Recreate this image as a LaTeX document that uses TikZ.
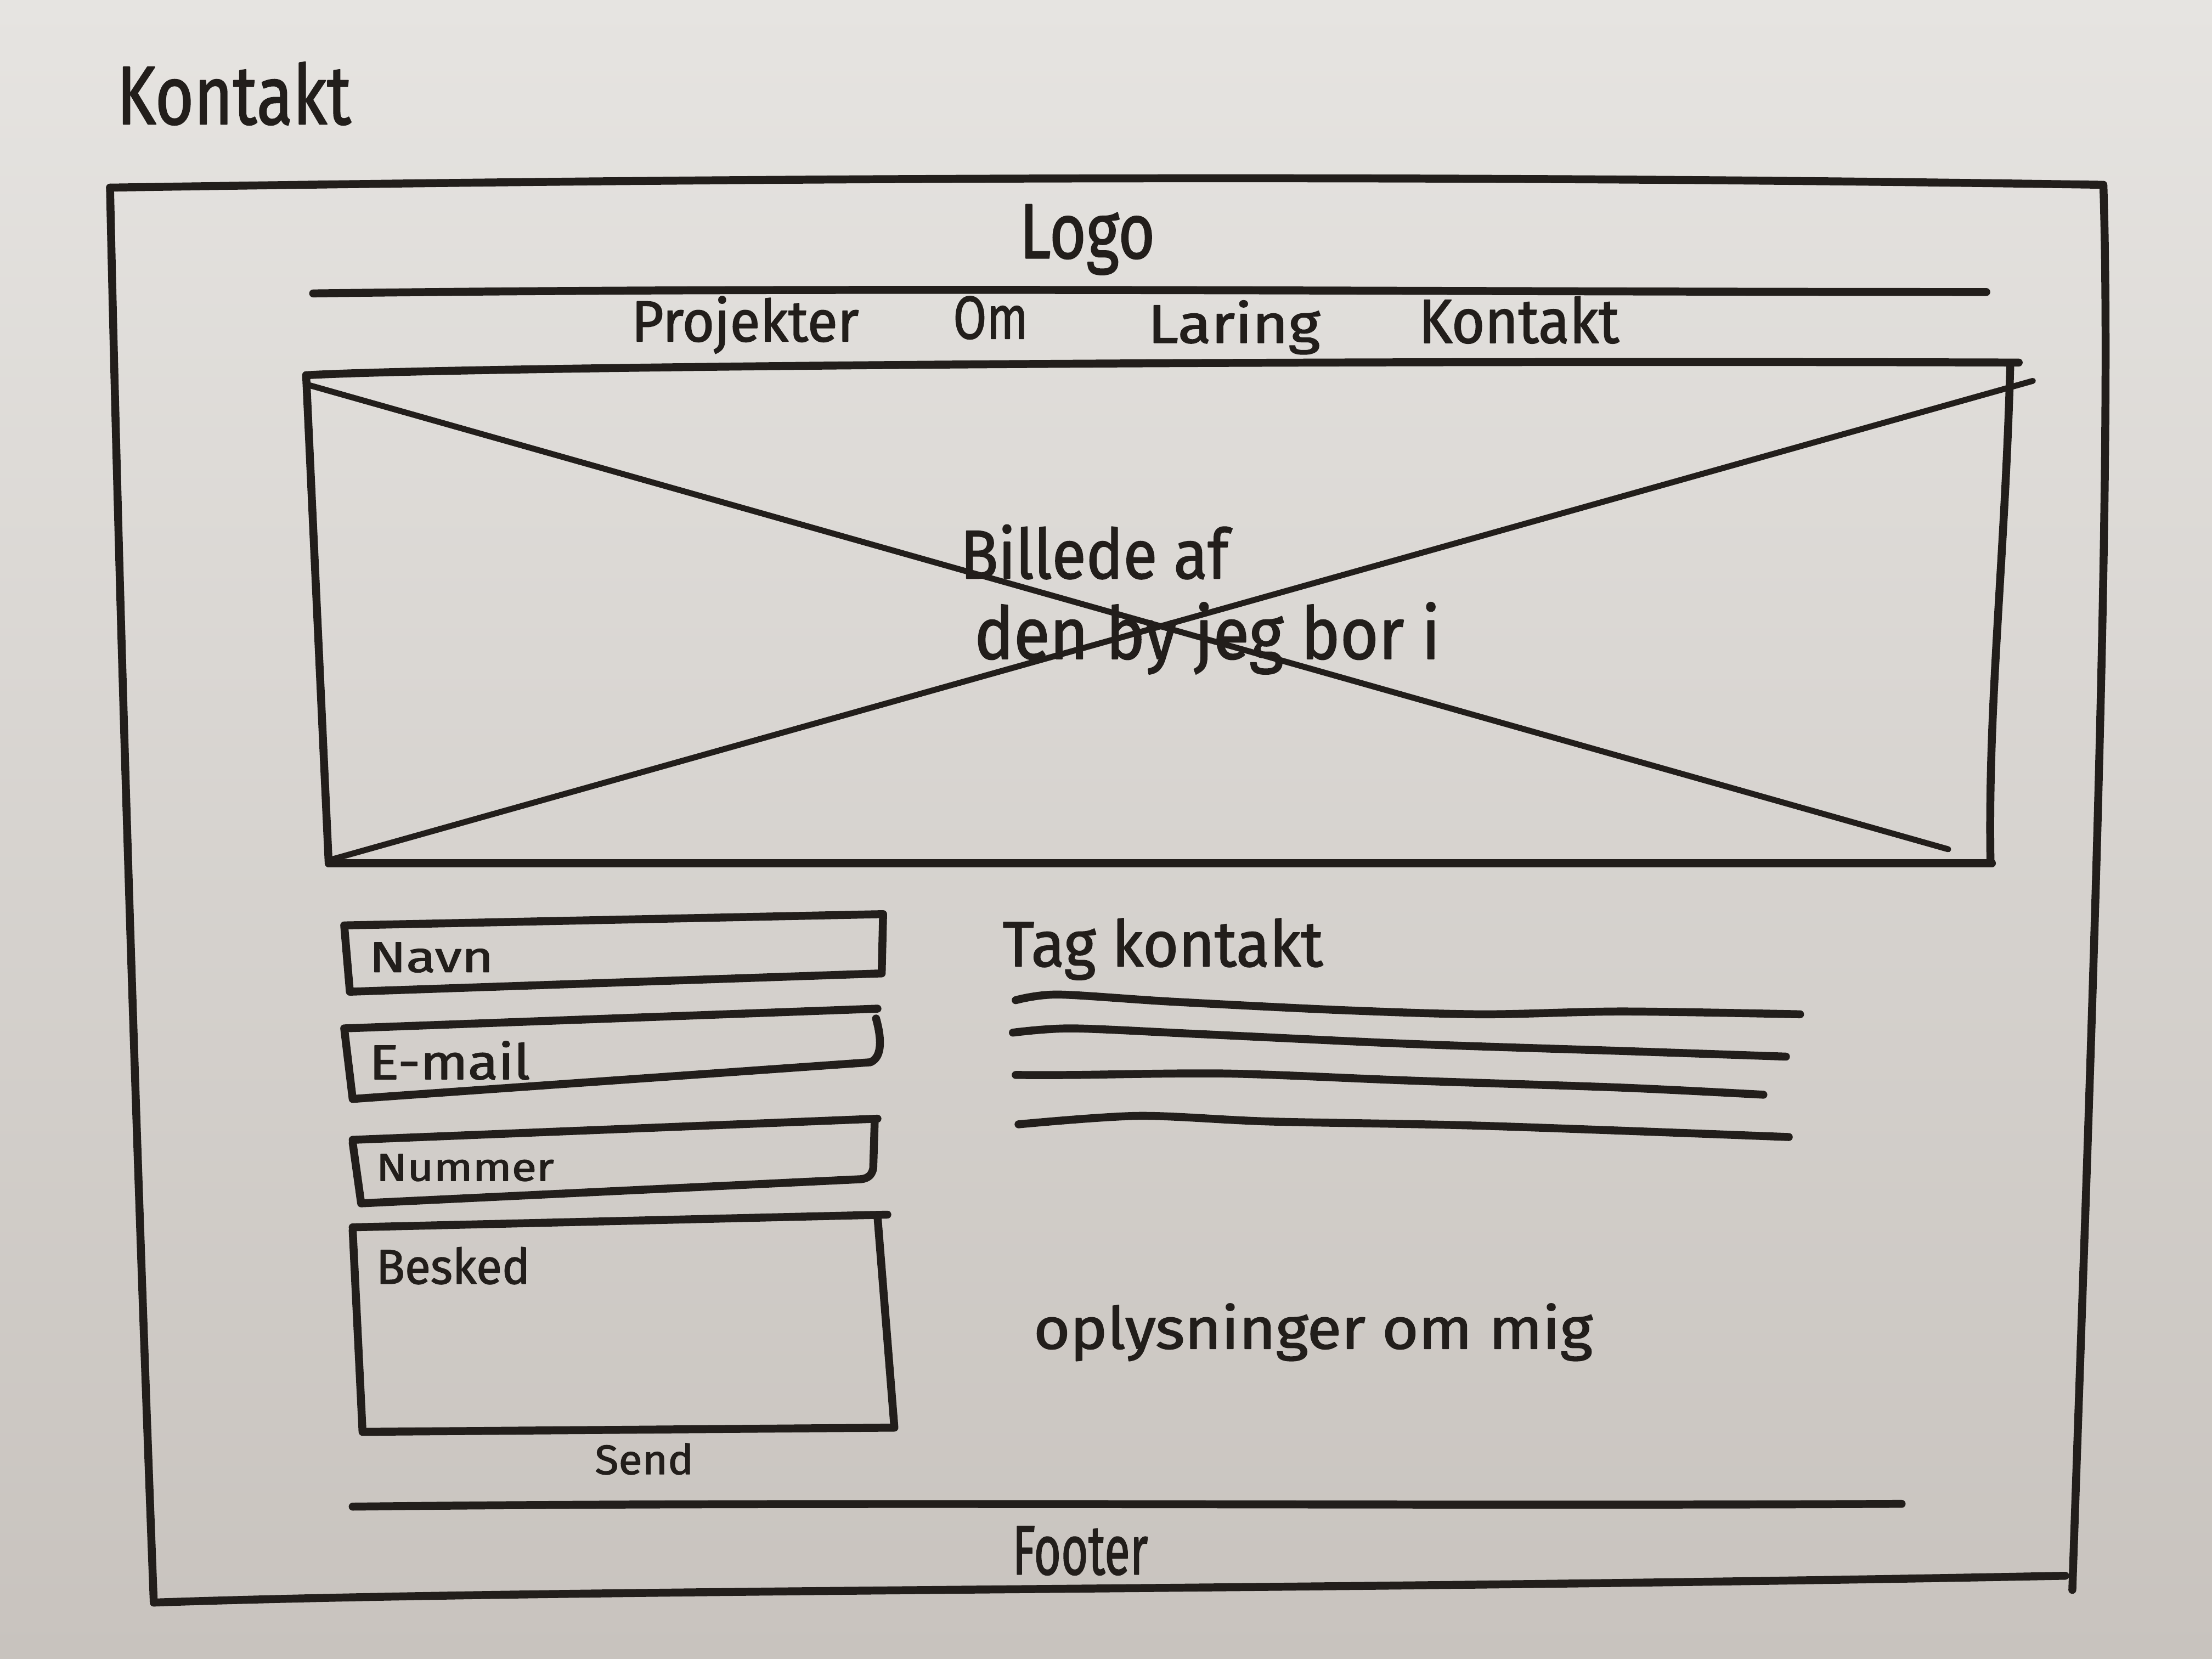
\documentclass[tikz,border=0pt]{standalone}
\usepackage{fontspec}
\setmainfont{Fira Sans}[FakeBold=1.6,AutoFakeBold=1.6]
\usepackage{graphicx}
\definecolor{paperTop}{HTML}{E6E4E1}
\definecolor{paperBot}{HTML}{C8C3BE}
\definecolor{inkc}{HTML}{221E1B}
% handwritten label squeezed to a given width and height (in mm)
\newcommand\hw[3]{\resizebox{#1mm}{#2mm}{\bfseries #3}}
\begin{document}
\begin{tikzpicture}[x=0.01cm,y=-0.01cm,line cap=round,line join=round,
  ink/.style={draw=inkc,line width=1.6pt},
  fineink/.style={draw=inkc,line width=1.2pt},
  hand/.style={anchor=base west,inner sep=0pt,text=inkc}]
% paper
\shade[top color=paperTop,bottom color=paperBot] (0,0) rectangle (1568,1176);
\useasboundingbox (0,0) rectangle (1568,1176);

% page title
\node[hand] (title) at (82,88) {\hw{16.6}{4.4}{Kontakt}};

% outer page frame
\draw[ink] (78,133) .. controls (400,128) and (900,122) .. (1490,131);
\draw[ink] (1491,131) .. controls (1498,350) and (1480,800) .. (1469,1127);
\draw[ink] (109,1136) .. controls (400,1126) and (900,1128) .. (1464,1117);
\draw[ink] (78,133) .. controls (86,500) and (100,900) .. (109,1136);

% header
\node[hand] (logo) at (722,183) {\hw{9.6}{3.8}{Logo}};
\draw[ink] (222,208) .. controls (600,203) and (1000,207) .. (1408,207);

% navigation
\node[hand] (nav1) at (447,242) {\hw{16.1}{3.2}{Projekter}};
\node[hand] (nav2) at (675,240) {\hw{5.3}{3.0}{Om}};
\node[hand] (nav3) at (813,243) {\hw{12.2}{3.0}{Laring}};
\node[hand] (nav4) at (1005,243) {\hw{14.2}{3.3}{Kontakt}};

% hero image placeholder
\draw[ink] (217,266) .. controls (300,261) and (800,255) .. (1431,257);
\draw[ink] (1425,259) .. controls (1421,400) and (1409,500) .. (1411,612);
\draw[ink] (1412,612) -- (233,612);
\draw[ink] (217,266) -- (233,612);
\draw[fineink] (219,273) -- (1381,602);
\draw[fineink] (236,609) -- (1441,270);
\node[hand] (img1) at (680,410) {\hw{19.0}{3.8}{Billede af}};
\node[hand] (img2) at (690,467) {\hw{33.0}{4.0}{den by jeg bor i}};

% contact form
\draw[ink] (244,656) -- (626,648) -- (625,690) -- (248,703) -- cycle;
\node[hand] (f1) at (261,689) {\hw{8.8}{2.1}{Navn}};
\draw[ink] (244,729) -- (622,715)
  (621,722) .. controls (626,740) and (624,750) .. (617,753) -- (250,779) -- (244,729);
\node[hand] (f2) at (261,765) {\hw{11.4}{2.7}{E-mail}};
\draw[ink] (250,808) -- (622,793)
  (620,796) -- (619,828) .. controls (618,834) and (614,836) .. (608,836) -- (256,853) -- (250,810);
\node[hand] (f3) at (266,837) {\hw{12.6}{1.9}{Nummer}};
\draw[ink] (250,870) -- (629,861) (622,862) -- (634,1012) -- (257,1015) -- (250,872);
\node[hand] (f4) at (266,910) {\hw{10.9}{2.6}{Besked}};
\node[hand] (send) at (421,1045) {\hw{7.0}{2.2}{Send}};

% contact text column
\node[hand] (tag) at (710,685) {\hw{22.7}{3.4}{Tag kontakt}};
\draw[ink] plot[smooth] coordinates {(720,709) (750,705) (830,710) (950,716) (1050,719) (1150,717) (1276,719)};
\draw[ink] plot[smooth] coordinates {(718,732) (760,729) (850,733) (1000,740) (1150,745) (1266,749)};
\draw[ink] plot[smooth] coordinates {(720,762) (760,762) (870,761) (1000,766) (1150,771) (1250,776)};
\draw[ink] plot[smooth] coordinates {(722,797) (807,791) (900,795) (1050,798) (1268,806)};
\node[hand] (info) at (732,956) {\hw{39.6}{3.2}{oplysninger om mig}};

% footer
\draw[ink] (250,1068) .. controls (600,1064) and (1000,1068) .. (1348,1066);
\node[hand] (footer) at (717,1116) {\hw{9.6}{3.4}{Footer}};
\end{tikzpicture}
\end{document}
